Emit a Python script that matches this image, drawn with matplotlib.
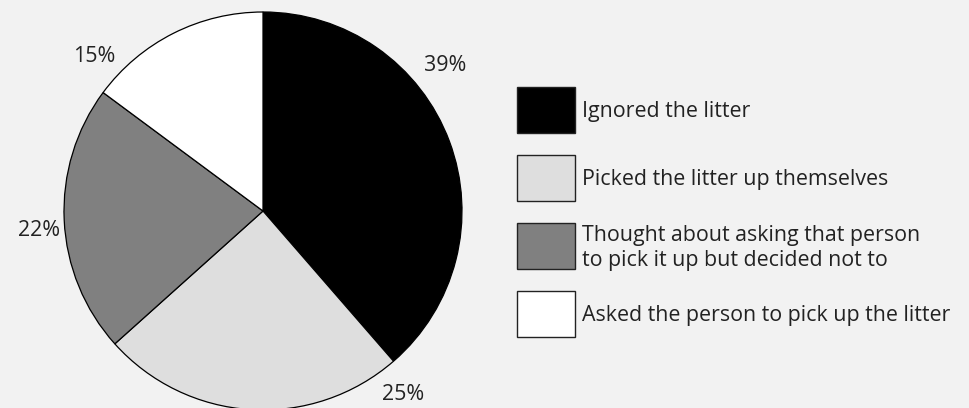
import matplotlib
matplotlib.use("Agg")
import matplotlib.pyplot as plt
from matplotlib.patches import Rectangle
import numpy as np

categories = [
    "Ignored the litter",
    "Picked the litter up themselves",
    "Thought about asking that person\nto pick it up but decided not to",
    "Asked the person to pick up the litter",
]
values = [39, 25, 22, 15]
colors = ["#000000", "#dedede", "#808080", "#ffffff"]
# label placement (angle in degrees, distance in radii) for the percentage texts
label_angles = [38.7, -52.7, 185.0, 137.5]
label_dist = [1.17, 1.16, 1.13, 1.15]

W, H = 970, 408
bg = "#f2f2f2"
txt = "#222222"
fs = 15.4
plt.rcParams["font.family"] = ["Open Sans", "DejaVu Sans"]

fig = plt.figure(figsize=(W / 100, H / 100), dpi=100, facecolor=bg)
ax = fig.add_axes([0, 0, 1, 1])
ax.set_facecolor(bg)

cx, cy, r = 263, H - 211, 199
ax.pie(values, colors=colors, startangle=90, counterclock=False,
       center=(cx, cy), radius=r,
       wedgeprops=dict(edgecolor="black", linewidth=0.9))

for v, a, d in zip(values, label_angles, label_dist):
    t = np.deg2rad(a)
    ax.text(cx + d * r * np.cos(t), cy + d * r * np.sin(t), f"{v}%",
            ha="center", va="center", fontsize=fs, color=txt)

# legend drawn as boxes with labels
bx, bw, bh, top0, step = 517, 58, 46, 87, 68
for i, (lab, c) in enumerate(zip(categories, colors)):
    top = top0 + i * step
    ax.add_patch(Rectangle((bx, H - top - bh), bw, bh, facecolor=c,
                           edgecolor="#222222", linewidth=1.0))
    ax.text(bx + bw + 7, H - top - bh / 2 - 2, lab, ha="left", va="center",
            fontsize=fs, color=txt, linespacing=1.2)

ax.set_xlim(0, W)
ax.set_ylim(0, H)
ax.set_aspect("equal")
ax.axis("off")

fig.savefig("out.png", dpi=100, facecolor=bg)
